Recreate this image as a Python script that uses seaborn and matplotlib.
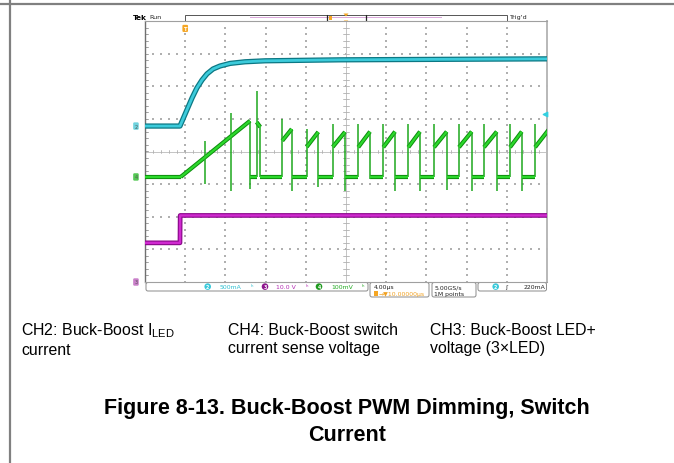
import numpy as np
import pandas as pd
import matplotlib
matplotlib.use("Agg")
import matplotlib.pyplot as plt
import seaborn as sns
from matplotlib.patches import FancyBboxPatch, Rectangle, Circle, Polygon

sns.set_theme(style="white")
plt.rcParams['font.family'] = ['Liberation Sans', 'DejaVu Sans']
plt.rcParams['mathtext.fontset'] = 'custom'
plt.rcParams['mathtext.rm'] = 'Liberation Sans'
plt.rcParams['mathtext.it'] = 'Liberation Sans:italic'
plt.rcParams['mathtext.bf'] = 'Liberation Sans:bold'

# ---------------- data (time in us, amplitude in screen divisions) ----------------
ch2_t = [0, 3.48, 4.08, 4.68, 5.17, 5.67, 6.17, 6.77, 7.46, 8.46, 9.95, 11.94, 19.40, 40.0]
ch2_v = [0.78, 0.78, 1.21, 1.64, 1.95, 2.19, 2.38, 2.53, 2.62, 2.70, 2.75, 2.78, 2.81, 2.84]

ch3_t = [0, 3.48, 3.50, 40.0]
ch3_v = [-2.80, -2.80, -1.96, -1.96]

ch4_base = -0.78
pulse_rise = [3.55, 11.11, 13.66, 16.09, 18.68, 21.22, 23.71, 26.20, 28.76, 31.24, 33.73, 36.32, 38.81]
pulse_fall = [10.45, 11.47, 14.60, 17.24, 19.90, 22.39, 24.88, 27.36, 30.02, 32.51, 35.00, 37.49, 40.30]
pulse_start = [-0.78, 0.90, 0.33, 0.14, 0.14, 0.13, 0.13, 0.13, 0.13, 0.13, 0.13, 0.13, 0.13]
pulse_end = [0.94, 0.75, 0.69, 0.60, 0.60, 0.61, 0.61, 0.61, 0.61, 0.61, 0.61, 0.61, 0.72]
rise_peak = [-0.78, 1.86, 1.00, 0.69, 0.84, 0.84, 0.84, 0.84, 0.84, 0.84, 0.84, 0.84, 0.84]
fall_dip = [-1.15, -0.78, -1.20, -1.09, -1.20, -0.84, -1.20, -1.20, -1.17, -1.20, -1.20, -1.20, -1.20]
mid_spike_t = [5.97, 8.56]
mid_spike_lo = [-1.00, -1.21]
mid_spike_hi = [0.32, 1.18]

trig_level = 1.15

captions = ["CH2: Buck-Boost I$_{\\mathrm{LED}}$\ncurrent",
            "CH4: Buck-Boost switch\ncurrent sense voltage",
            "CH3: Buck-Boost LED+\nvoltage (3\u00d7LED)"]
title = "Figure 8-13. Buck-Boost PWM Dimming, Switch\nCurrent"

# ---------------- build ch4 segments from pulse list ----------------
seg_t, seg_v, seg_u = [], [], []
edge_t, edge_v, edge_u = [], [], []
u = 0
prev = 0.0
for r, f, s, e in zip(pulse_rise, pulse_fall, pulse_start, pulse_end):
    seg_t += [prev, r, r, f]; seg_v += [ch4_base, ch4_base, s, e]; seg_u += [u, u, u + 1, u + 1]
    u += 2
    prev = f
if prev < 40:
    seg_t += [prev, 40.0]; seg_v += [ch4_base, ch4_base]; seg_u += [u, u]
segments = pd.DataFrame({"t": seg_t, "v": seg_v, "u": seg_u})

k = 0
for r, f, s, e, pk, dp in zip(pulse_rise, pulse_fall, pulse_start, pulse_end, rise_peak, fall_dip):
    edge_t += [r, r]; edge_v += [ch4_base, max(s, pk)]; edge_u += [k, k]; k += 1
    edge_t += [f, f]; edge_v += [e, min(dp, ch4_base)]; edge_u += [k, k]; k += 1
for t, lo, hi in zip(mid_spike_t, mid_spike_lo, mid_spike_hi):
    edge_t += [t, t]; edge_v += [lo, hi]; edge_u += [k, k]; k += 1
edges = pd.DataFrame({"t": edge_t, "v": edge_v, "u": edge_u})

# ---------------- figure ----------------
W, H = 674, 464
fig = plt.figure(figsize=(W / 100, H / 100), dpi=100)
fig.patch.set_facecolor("white")

bg = fig.add_axes([0, 0, 1, 1])
bg.set_xlim(0, W)
bg.set_ylim(H, 0)
bg.axis("off")

# page frame lines
bg.plot([0, W], [4.5, 4.5], color="#808080", lw=1.6, solid_capstyle="butt")
bg.plot([9.5, 9.5], [0, H], color="#808080", lw=1.6, solid_capstyle="butt")

# scope graticule axes
L, R, T, B = 145, 547, 22, 283
ax = fig.add_axes([L / W, 1 - B / H, (R - L) / W, (B - T) / H])
ax.set_zorder(2)
ax.set_xlim(0, 40)
ax.set_ylim(-4, 4)
ax.set_xticks([])
ax.set_yticks([])
ax.set_facecolor("white")
for side, col, lw in [("left", "#707070", 1.0), ("top", "#a0a0a0", 0.8),
                      ("right", "#b8b8b8", 1.4), ("bottom", "#a0a0a0", 0.8)]:
    ax.spines[side].set_color(col)
    ax.spines[side].set_linewidth(lw)

# dotted grid
sub_y = np.arange(-4, 4.001, 0.2)
sub_x = np.arange(0, 40.001, 0.8)
for i in range(1, 10):
    if i == 5:
        continue
    ax.scatter(np.full_like(sub_y, i * 4.0), sub_y, s=0.9, color="#b0b0b0", marker="s", linewidths=0, zorder=1)
for j in range(-3, 4):
    if j == 0:
        continue
    ax.scatter(sub_x, np.full_like(sub_x, j), s=0.9, color="#b0b0b0", marker="s", linewidths=0, zorder=1)
# center cross with ticks
ax.axvline(20, color="#c4c4c4", lw=0.7, zorder=1)
ax.axhline(0, color="#c4c4c4", lw=0.7, zorder=1)
for yy in sub_y:
    ax.plot([19.75, 20.25], [yy, yy], color="#b0b0b0", lw=0.6, zorder=1)
    ax.plot([0, 0.25], [yy, yy], color="#909090", lw=0.6, zorder=1)
for xx in sub_x:
    ax.plot([xx, xx], [-0.06, 0.06], color="#b0b0b0", lw=0.6, zorder=1)

# traces
sns.lineplot(x=ch3_t, y=ch3_v, sort=False, estimator=None, ax=ax, color="#8c0a8c", lw=3.4, zorder=3)
sns.lineplot(x=ch3_t, y=ch3_v, sort=False, estimator=None, ax=ax, color="#d02ad0", lw=1.7, zorder=4)

sns.lineplot(data=segments, x="t", y="v", units="u", sort=False, estimator=None, ax=ax,
             color="#0d8c0d", lw=3.0, zorder=5, solid_capstyle="butt")
sns.lineplot(data=edges, x="t", y="v", units="u", sort=False, estimator=None, ax=ax,
             color="#1ea81e", lw=1.1, zorder=5.5, solid_capstyle="butt")
sns.lineplot(data=segments, x="t", y="v", units="u", sort=False, estimator=None, ax=ax,
             color="#2cd82c", lw=1.6, zorder=6, solid_capstyle="butt")

sns.lineplot(x=ch2_t, y=ch2_v, sort=False, estimator=None, ax=ax, color="#0c7884", lw=3.8, zorder=7)
sns.lineplot(x=ch2_t, y=ch2_v, sort=False, estimator=None, ax=ax, color="#3ccbdb", lw=2.0, zorder=8)

# channel offset tags (left) and trigger level (right)
for yv, fc, lab in [(ch2_v[0], "#6fd3de", "2"), (ch4_base, "#55c855", "4"), (-4.0, "#c97fc9", "3")]:
    ax.text(-0.9, yv, lab, transform=ax.transData, fontsize=3.5, color="#555555",
            ha="center", va="center", clip_on=False, family="DejaVu Sans",
            bbox=dict(boxstyle="round,pad=0.25", fc=fc, ec="none"))
ax.scatter([39.85], [trig_level], marker="<", s=10, color="#33d0e0", clip_on=False, zorder=9)

# trigger "T" marker
ax.text(4.0, 3.85, "T", fontsize=3.8, color="white", ha="center", va="top", family="DejaVu Sans",
        fontweight="bold", bbox=dict(boxstyle="round,pad=0.2", fc="#f5a623", ec="none"), zorder=9)

# ---------------- header ----------------
bg.text(147, 17.5, "Tek", fontsize=5.2, fontweight="bold", ha="right", va="center", color="black", family="DejaVu Sans")
bg.text(149.5, 17.5, "Run", fontsize=4.6, ha="left", va="center", color="#222222", family="DejaVu Sans")
bg.add_patch(Rectangle((185, 15.5), 322, 6, fill=False, ec="#555555", lw=0.7))
bg.add_patch(Rectangle((250, 17.6), 192, 1.8, fc="#dca8dc", ec="none"))
bg.plot([327, 327], [15.5, 21.5], color="#222222", lw=0.9)
bg.plot([365.7, 365.7], [15.5, 21.5], color="#222222", lw=0.9)
bg.add_patch(Rectangle((328.5, 17.0), 3, 3.5, fc="#f5a623", ec="none"))
bg.add_patch(Polygon([[343.5, 14.5], [348.5, 14.5], [346, 17.5]], closed=True, fc="#f5a623", ec="none"))
bg.add_patch(Polygon([[343.8, 21.5], [348.2, 21.5], [346, 24.3]], closed=True, fc="#f5a623", ec="none"))
bg.text(509, 17.5, "Trig'd", fontsize=4.6, ha="left", va="center", color="#222222", family="DejaVu Sans")

# ---------------- status bar ----------------
def box(x0, x1, y0, y1):
    bg.add_patch(FancyBboxPatch((x0, y0), x1 - x0, y1 - y0, boxstyle="round,pad=0,rounding_size=2",
                                fill=False, ec="#8a8a8a", lw=0.7))

box(146, 368, 283.5, 292)
box(370, 429, 283.5, 298)
box(432, 476, 283.5, 298)
box(478, 546.5, 283.5, 292)

fs = 4.4
def chip(x, y, lab, fc):
    bg.add_patch(Circle((x, y), 3.3, fc=fc, ec="none"))
    bg.text(x, y + 0.2, lab, fontsize=3.4, color="white", ha="center", va="center", family="DejaVu Sans", fontweight="bold")

chip(207.7, 287.6, "2", "#39c9da")
bg.text(220, 287.8, "500mA", fontsize=fs, color="#2cbfd0", ha="left", va="center", family="DejaVu Sans")
bg.text(251, 287.8, "\u02b0", fontsize=fs, color="#2cbfd0", ha="left", va="center", family="DejaVu Sans")
chip(265, 287.6, "3", "#8d168d")
bg.text(276.5, 287.8, "10.0 V", fontsize=fs, color="#b32ab3", ha="left", va="center", family="DejaVu Sans")
bg.text(306, 287.8, "\u02b0", fontsize=fs, color="#b32ab3", ha="left", va="center", family="DejaVu Sans")
chip(319, 287.6, "4", "#1e9a1e")
bg.text(331.5, 287.8, "100mV", fontsize=fs, color="#22aa22", ha="left", va="center", family="DejaVu Sans")
bg.text(362, 287.8, "\u02b0", fontsize=fs, color="#22aa22", ha="left", va="center", family="DejaVu Sans")

bg.text(373.5, 287.8, "4.00\u00b5s", fontsize=fs, color="#222222", ha="left", va="center", family="DejaVu Sans")
bg.add_patch(Rectangle((373.5, 292.3), 4.5, 4.2, fc="#f5a623", ec="none"))
bg.text(378.5, 294.6, "\u2192\u25bc10.00000\u00b5s", fontsize=fs, color="#f0a020", ha="left", va="center", family="DejaVu Sans")
bg.text(434.5, 287.8, "5.00GS/s", fontsize=fs, color="#222222", ha="left", va="center", family="DejaVu Sans")
bg.text(434.5, 294.6, "1M points", fontsize=fs, color="#222222", ha="left", va="center", family="DejaVu Sans")
chip(495.7, 287.6, "2", "#39c9da")
bg.text(505, 287.8, "\u0283", fontsize=fs, color="#222222", ha="left", va="center", family="DejaVu Sans")
bg.text(545, 287.8, "220mA", fontsize=fs, color="#222222", ha="right", va="center", family="DejaVu Sans")

# ---------------- captions & title ----------------
for x, txt in zip([21, 228, 430], captions):
    bg.text(x, 339.5, txt, fontsize=11.4, color="black", ha="left", va="center", linespacing=1.2)

bg.text(347, 422, title, fontsize=15.5, fontweight="bold", color="black", ha="center",
        va="center", linespacing=1.42)

fig.savefig("out.png", dpi=100, facecolor="white")
